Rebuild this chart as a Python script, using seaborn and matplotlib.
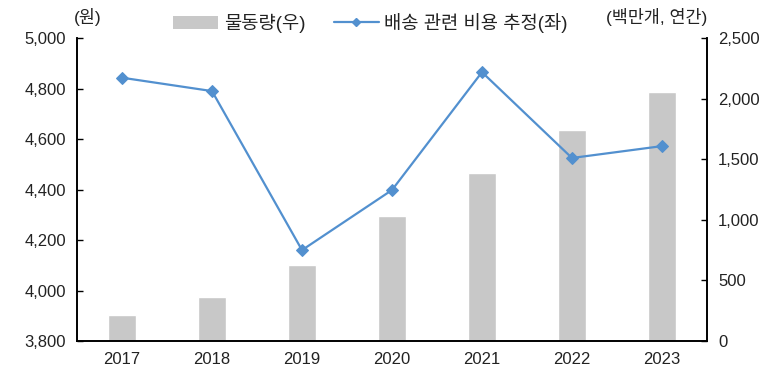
import matplotlib
matplotlib.use('Agg')
import matplotlib.pyplot as plt
import seaborn as sns
import pandas as pd
from matplotlib.ticker import FuncFormatter
from matplotlib.lines import Line2D
from matplotlib.patches import Patch

years = ['2017', '2018', '2019', '2020', '2021', '2022', '2023']
volume = [214, 363, 627, 1031, 1386, 1741, 2054]          # 물동량 (백만개, 우축)
cost = [4843, 4790, 4160, 4398, 4865, 4525, 4572]          # 배송 관련 비용 추정 (원, 좌축)

df = pd.DataFrame({'year': years, 'volume': volume, 'cost': cost})

sns.set_style('white')
plt.rcParams['font.family'] = ['Liberation Sans', 'Noto Sans CJK KR', 'DejaVu Sans']

bar_color = '#C8C8C8'
line_color = '#5290CF'

fig = plt.figure(figsize=(7.82, 3.77), dpi=100)
ax = fig.add_axes([0.0985, 0.0955, 0.8055, 0.8035])
ax2 = ax.twinx()

sns.barplot(data=df, x='year', y='volume', ax=ax2, color=bar_color, width=0.32,
            saturation=1)
sns.lineplot(data=df, x='year', y='cost', ax=ax, color=line_color, marker='D',
             markersize=6, linewidth=1.6, markeredgecolor=line_color)

ax.set_zorder(ax2.get_zorder() + 1)
ax.patch.set_visible(False)

ax.set_xlim(-0.5, 6.5)
ax.set_ylim(3800, 5000)
ax.set_yticks(range(3800, 5001, 200))
ax2.set_ylim(0, 2500)
ax2.set_yticks(range(0, 2501, 500))

fmt = FuncFormatter(lambda v, p: f'{int(v):,}')
ax.yaxis.set_major_formatter(fmt)
ax2.yaxis.set_major_formatter(fmt)

for a in (ax, ax2):
    a.set_xlabel('')
    a.set_ylabel('')
    a.spines['top'].set_visible(False)
    for s in ('left', 'right', 'bottom'):
        a.spines[s].set_color('black')
        a.spines[s].set_linewidth(1.2)
    a.tick_params(axis='y', direction='in', length=4, width=1.0, color='black',
                  labelsize=12, labelcolor='#222222', pad=8)
    a.tick_params(axis='x', length=0, labelsize=12, labelcolor='#222222', pad=8)

fig.text(0.112, 0.955, '(원)', fontsize=12.5, ha='center', va='center', color='#222222')
fig.text(0.84, 0.955, '(백만개, 연간)', fontsize=12.5, ha='center', va='center', color='#222222')

handles = [Patch(facecolor=bar_color, edgecolor='none'),
           Line2D([0], [0], color=line_color, marker='D', markersize=4, linewidth=1.6)]
labels = ['물동량(우)', '배송 관련 비용 추정(좌)']
fig.legend(handles, labels, loc='center', bbox_to_anchor=(0.474, 0.939), ncol=2,
           frameon=False, fontsize=13.5, handlelength=2.4, handletextpad=0.3,
           columnspacing=1.5, labelcolor='#222222')

fig.savefig('out.png', dpi=100)
